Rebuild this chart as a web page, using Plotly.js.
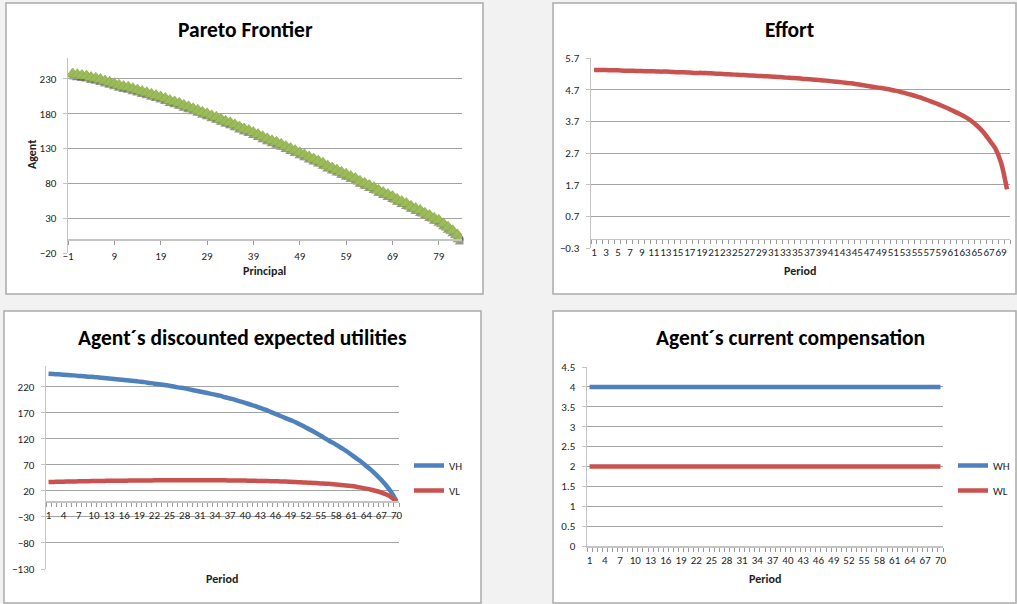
<!DOCTYPE html>
<html>
<head>
<meta charset="utf-8">
<script src="https://cdn.plot.ly/plotly-3.0.1.min.js"></script>
<style>
  html, body { margin: 0; padding: 0; background: #f2f2f2; }
  #chart { width: 1017px; height: 604px; }
</style>
</head>
<body>
<div id="chart"></div>
<script>
// ---- data ----
const principal = [0, 1, 2, 3, 4, 5, 6, 7, 8, 9, 10, 11, 12, 13, 14, 15, 16, 17, 18, 19,
  20, 21, 22, 23, 24, 25, 26, 27, 28, 29, 30, 31, 32, 33, 34, 35, 36, 37, 38, 39,
  40, 41, 42, 43, 44, 45, 46, 47, 48, 49, 50, 51, 52, 53, 54, 55, 56, 57, 58, 59,
  60, 61, 62, 63, 64, 65, 66, 67, 68, 69, 70, 71, 72, 73, 74, 75, 76, 77, 78, 79,
  80, 81, 82, 83, 83.6];
const agent = [237, 236, 235, 234, 232, 231, 229, 227, 225, 223, 221, 219, 218, 216, 214, 212, 210, 208, 206, 204,
  202, 199, 197, 195, 192, 190, 187, 185, 182, 180, 177, 175, 172, 169, 167, 164, 161, 158, 156, 153,
  150, 147, 144, 141, 139, 136, 133, 130, 127, 124, 121, 118, 115, 112, 109, 105, 102, 99, 96, 93,
  90, 87, 83, 80, 77, 74, 70, 67, 64, 61, 57, 54, 51, 47, 44, 41, 37, 34, 30, 27,
  22, 17, 12, 6, 0];

const periods = [1, 2, 3, 4, 5, 6, 7, 8, 9, 10, 11, 12, 13, 14, 15, 16, 17, 18, 19, 20,
  21, 22, 23, 24, 25, 26, 27, 28, 29, 30, 31, 32, 33, 34, 35, 36, 37, 38, 39, 40,
  41, 42, 43, 44, 45, 46, 47, 48, 49, 50, 51, 52, 53, 54, 55, 56, 57, 58, 59, 60,
  61, 62, 63, 64, 65, 66, 67, 68, 69, 70];

const effort = [5.32, 5.32, 5.32, 5.31, 5.31, 5.30, 5.30, 5.29, 5.29, 5.28,
  5.28, 5.27, 5.27, 5.26, 5.25, 5.25, 5.24, 5.23, 5.23, 5.22,
  5.21, 5.20, 5.19, 5.18, 5.17, 5.16, 5.15, 5.14, 5.13, 5.12,
  5.11, 5.10, 5.08, 5.07, 5.06, 5.04, 5.03, 5.01, 5.00, 4.98,
  4.96, 4.94, 4.92, 4.90, 4.87, 4.84, 4.81, 4.78, 4.75, 4.72,
  4.68, 4.64, 4.59, 4.54, 4.48, 4.42, 4.35, 4.28, 4.20, 4.12,
  4.03, 3.94, 3.84, 3.72, 3.56, 3.37, 3.12, 2.86, 2.40, 1.55];

const VH = [245, 244.5, 244, 243, 242.5, 242, 241, 240.5, 239.5, 239,
  238, 237, 236, 235, 234, 233, 232, 231, 230, 229,
  227.5, 226, 225, 223.5, 222, 220, 218.5, 217, 215, 213,
  211, 209, 207, 205, 203, 200, 197.5, 195, 192, 189,
  186, 183, 179.5, 176, 172, 168, 164, 160, 156, 152,
  147, 142, 137, 131.5, 126, 120, 114.5, 109, 103, 97,
  90, 83, 76, 68, 60, 51, 41, 30, 17, 0];
const VL = [37.0, 37.3, 37.6, 37.8, 38.0, 38.2, 38.4, 38.6, 38.8, 39.0,
  39.1, 39.3, 39.4, 39.5, 39.6, 39.7, 39.8, 39.9, 40.0, 40.1,
  40.2, 40.3, 40.3, 40.4, 40.4, 40.5, 40.5, 40.5, 40.5, 40.5,
  40.5, 40.5, 40.5, 40.4, 40.4, 40.3, 40.2, 40.1, 40.0, 39.8,
  39.6, 39.4, 39.1, 39.0, 38.8, 38.6, 38.3, 38.0, 37.5, 37.0,
  36.6, 36.1, 35.6, 35.1, 34.5, 33.9, 33.2, 32.4, 31.5, 30.5,
  29.3, 28.0, 26.4, 24.5, 22.3, 19.8, 16.8, 13.0, 7.8, 0];

const WH = [4, 4, 4, 4, 4, 4, 4, 4, 4, 4, 4, 4, 4, 4, 4, 4, 4, 4, 4, 4,
  4, 4, 4, 4, 4, 4, 4, 4, 4, 4, 4, 4, 4, 4, 4, 4, 4, 4, 4, 4,
  4, 4, 4, 4, 4, 4, 4, 4, 4, 4, 4, 4, 4, 4, 4, 4, 4, 4, 4, 4,
  4, 4, 4, 4, 4, 4, 4, 4, 4, 4];
const WL = [2, 2, 2, 2, 2, 2, 2, 2, 2, 2, 2, 2, 2, 2, 2, 2, 2, 2, 2, 2,
  2, 2, 2, 2, 2, 2, 2, 2, 2, 2, 2, 2, 2, 2, 2, 2, 2, 2, 2, 2,
  2, 2, 2, 2, 2, 2, 2, 2, 2, 2, 2, 2, 2, 2, 2, 2, 2, 2, 2, 2,
  2, 2, 2, 2, 2, 2, 2, 2, 2, 2];

// tick labels on the period axes
const effortTicks = periods.filter((p, i) => i % 2 === 0);   // 1, 3, 5, ... 69
const periodTicks = periods.filter((p, i) => i % 3 === 0);   // 1, 4, 7, ... 70

// ---- layout helpers (pixel -> paper fraction) ----
const W = 1017, H = 604;
const fx = p => p / W;
const fy = p => 1 - p / H;
const FONT = "Carlito, Lato, 'Liberation Sans', sans-serif";
const BLUE = '#4f81bd', RED = '#c9524e', GREEN = '#9bbb59';
const GRID = '#a3a3a3', AXLINE = '#c4c4c4', TXT = '#1e1e1e';

// plot areas in pixels
const A1 = {x0: 68, x1: 462, y0: 58, y1: 253};
const A2 = {x0: 591, x1: 1010, y0: 58, y1: 248};
const A3 = {x0: 46, x1: 399, y0: 366, y1: 569};
const A4 = {x0: 587, x1: 943, y0: 367, y1: 546};
const R1x = [-1, 84], R1y = [-20, 260];
const R2y = [-0.3, 5.7];
const R3y = [-130, 260];
const R4y = [0, 4.5];
const catRange = [0.5, 70.5];

const xdom = a => [fx(a.x0), fx(a.x1)];
const ydom = a => [fy(a.y1), fy(a.y0)];
const zeroAt = (a, r) => { const d = ydom(a); return d[0] + (0 - r[0]) / (r[1] - r[0]) * (d[1] - d[0]); };

const tickFont = {family: FONT, size: 11, color: TXT};

function valueY(a, range, dtick, extra) {
  return Object.assign({
    domain: ydom(a), range: range, tick0: range[0], dtick: dtick,
    showgrid: true, gridcolor: GRID, gridwidth: 1, zeroline: false,
    showline: true, linecolor: AXLINE, linewidth: 1.5,
    ticks: 'outside', ticklen: 4, tickcolor: AXLINE, ticklabelstandoff: 4,
    tickfont: tickFont, fixedrange: true
  }, extra || {});
}

function periodX(a, tickvals, extra) {
  return Object.assign({
    domain: xdom(a), range: catRange, tickmode: 'array', tickvals: tickvals,
    ticktext: tickvals.map(String), tickangle: 0,
    ticks: '', showgrid: false, zeroline: false,
    showline: true, linecolor: AXLINE, linewidth: 1.5,
    minor: {tickmode: 'linear', tick0: 0.5, dtick: 1, ticks: 'outside', ticklen: 4, tickcolor: '#9a9a9a', showgrid: false},
    tickfont: tickFont, ticklabelstandoff: 3, fixedrange: true
  }, extra || {});
}

// shadow under the frontier markers: same scales, nudged a couple of pixels
const shadowArea = {x0: A1.x0 + 1.5, x1: A1.x1 + 1.5, y0: A1.y0 + 2.5, y1: A1.y1 + 2.5};

const smoothLine = (color) => ({color: color, width: 4.5, shape: 'spline', smoothing: 0.8, simplify: false});

const traces = [
  {x: principal, y: agent, xaxis: 'x', yaxis: 'y', type: 'scatter', mode: 'markers',
   marker: {symbol: 'triangle-up', size: 12, color: 'rgba(70,70,60,0.55)'},
   showlegend: false, hoverinfo: 'skip'},
  {x: principal, y: agent, xaxis: 'x2', yaxis: 'y2', type: 'scatter', mode: 'markers', name: 'Pareto Frontier',
   marker: {symbol: 'triangle-up', size: 12, color: GREEN, line: {color: '#86a64a', width: 0.6}},
   showlegend: false},
  {x: periods, y: effort, xaxis: 'x3', yaxis: 'y3', type: 'scatter', mode: 'lines', name: 'Effort',
   line: smoothLine(RED), showlegend: false},
  {x: periods, y: VH, xaxis: 'x4', yaxis: 'y4', type: 'scatter', mode: 'lines', name: 'VH',
   line: smoothLine(BLUE), legend: 'legend', legendgroup: 'vh'},
  {x: periods, y: VL, xaxis: 'x4', yaxis: 'y4', type: 'scatter', mode: 'lines', name: 'VL',
   line: smoothLine(RED), legend: 'legend', legendgroup: 'vl'},
  {x: periods, y: WH, xaxis: 'x5', yaxis: 'y5', type: 'scatter', mode: 'lines', name: 'WH',
   line: smoothLine(BLUE), legend: 'legend2', legendgroup: 'wh'},
  {x: periods, y: WL, xaxis: 'x5', yaxis: 'y5', type: 'scatter', mode: 'lines', name: 'WL',
   line: smoothLine(RED), legend: 'legend2', legendgroup: 'wl'}
];

const panelBox = (x0, y0, x1, y1) => ({
  type: 'rect', xref: 'paper', yref: 'paper', layer: 'below',
  x0: fx(x0), x1: fx(x1), y0: fy(y1), y1: fy(y0),
  fillcolor: '#ffffff', line: {color: '#ababab', width: 1.5}
});

const titleNote = (text, xpx, ypx) => ({
  text: '<b>' + text + '</b>', xref: 'paper', yref: 'paper', x: fx(xpx), y: fy(ypx),
  xanchor: 'center', yanchor: 'middle', showarrow: false,
  font: {family: FONT, size: 21.5, color: '#000'}
});
const axisNote = (text, xpx, ypx, angle) => ({
  text: '<b>' + text + '</b>', xref: 'paper', yref: 'paper', x: fx(xpx), y: fy(ypx),
  xanchor: 'center', yanchor: 'middle', showarrow: false, textangle: angle || 0,
  font: {family: FONT, size: 12, color: TXT}
});

const legendStyle = {
  xanchor: 'left', yanchor: 'top', bgcolor: 'rgba(0,0,0,0)', borderwidth: 0,
  font: {family: FONT, size: 11, color: TXT}, tracegroupgap: 6, itemwidth: 30
};

const layout = {
  width: W, height: H, margin: {l: 0, r: 0, t: 0, b: 0},
  paper_bgcolor: '#f2f2f2', plot_bgcolor: 'rgba(0,0,0,0)',
  showlegend: true, hovermode: false,
  // shadow subplot
  xaxis: {domain: xdom(shadowArea), range: R1x, visible: false, fixedrange: true},
  yaxis: {domain: ydom(shadowArea), range: R1y, visible: false, fixedrange: true},
  // Pareto Frontier
  xaxis2: {domain: xdom(A1), range: R1x, tick0: -1, dtick: 10, anchor: 'free', position: zeroAt(A1, R1y),
           showgrid: false, zeroline: false, showline: true, linecolor: AXLINE, linewidth: 1.5,
           ticks: 'outside', ticklen: 4, tickcolor: '#9a9a9a', tickfont: tickFont, ticklabelstandoff: 2, fixedrange: true},
  yaxis2: valueY(A1, R1y, 50, {anchor: 'x2'}),
  // Effort
  xaxis3: periodX(A2, effortTicks, {anchor: 'free', position: zeroAt(A2, R2y)}),
  yaxis3: valueY(A2, R2y, 1, {anchor: 'x3', tickformat: '.1f'}),
  // discounted expected utilities
  xaxis4: periodX(A3, periodTicks, {anchor: 'free', position: zeroAt(A3, R3y)}),
  yaxis4: valueY(A3, R3y, 50, {anchor: 'x4'}),
  // current compensation
  xaxis5: periodX(A4, periodTicks, {anchor: 'y5'}),
  yaxis5: valueY(A4, R4y, 0.5, {anchor: 'x5'}),
  legend: Object.assign({x: fx(409), y: fy(451)}, legendStyle),
  legend2: Object.assign({x: fx(953), y: fy(451)}, legendStyle),
  shapes: [
    panelBox(6, 3, 483, 294),
    panelBox(553, 3, 1016, 294),
    panelBox(4, 311, 481, 603),
    panelBox(553, 311, 1016, 603)
  ],
  annotations: [
    titleNote('Pareto Frontier', 245, 30),
    titleNote('Effort', 790, 30),
    titleNote('Agent\u00b4s discounted expected utilities', 242, 338),
    titleNote('Agent\u00b4s current compensation', 790, 338),
    axisNote('Agent', 32, 155, -90),
    axisNote('Principal', 264, 271),
    axisNote('Period', 800, 271),
    axisNote('Period', 222, 579),
    axisNote('Period', 765, 579)
  ]
};

Plotly.newPlot('chart', traces, layout, {displayModeBar: false, staticPlot: true});
</script>
</body>
</html>
